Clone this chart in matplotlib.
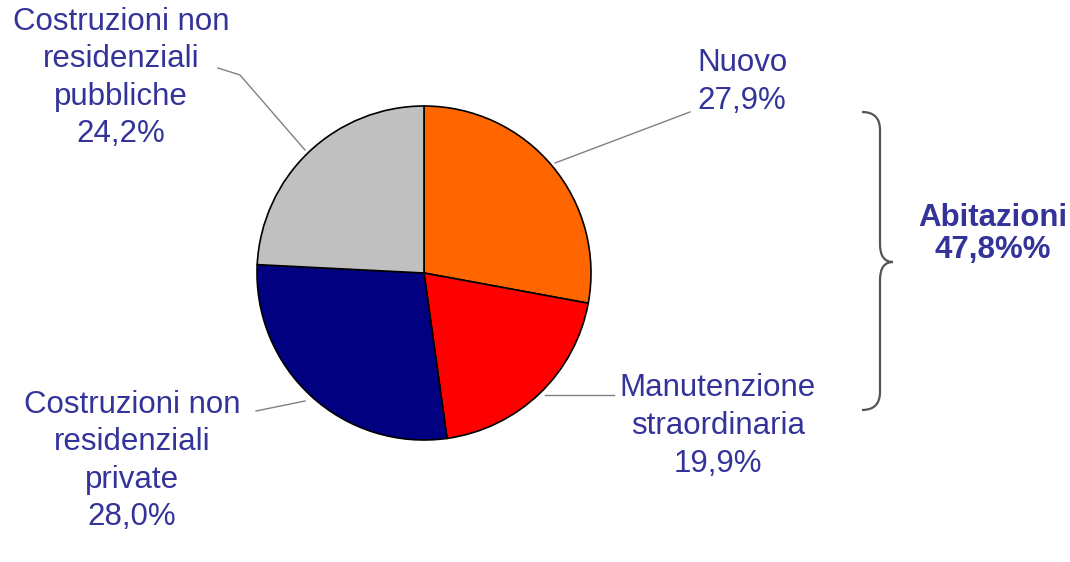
import numpy as np
import matplotlib
matplotlib.use("Agg")
import matplotlib.pyplot as plt
from matplotlib.path import Path
from matplotlib.patches import PathPatch

# Data
labels = ["Nuovo", "Manutenzione\nstraordinaria",
          "Costruzioni non\nresidenziali\nprivate",
          "Costruzioni non\nresidenziali\npubbliche"]
values = [27.9, 19.9, 28.0, 24.2]
colors = ["#FF6600", "#FF0000", "#000080", "#C0C0C0"]
group_label = "Abitazioni"
group_value = "47,8%%"

plt.rcParams['font.family'] = ['Liberation Sans', 'DejaVu Sans']
text_color = "#333399"

W, H = 1070, 562
fig = plt.figure(figsize=(W / 100, H / 100), dpi=100)
ax = fig.add_axes([0, 0, 1, 1])

cx, cy, r = 424, H - 273, 167
ax.pie(values, colors=colors, startangle=90, counterclock=False,
       center=(cx, cy), radius=r, frame=True,
       wedgeprops=dict(edgecolor="black", linewidth=1.2))
ax.set_xlim(0, W)
ax.set_ylim(0, H)
ax.set_aspect("equal")
ax.axis("off")

def fmt(v):
    return f"{v:.1f}".replace(".", ",") + "%"

# label centres (pixel coords, y from top) and leader lines
label_pos = [(742, 82), (718, 426), (132, 461), (121, 78)]
leaders = [[(555, 163), (690, 112)],
           [(545, 395), (614, 395)],
           [(305, 401), (256, 411)],
           [(305, 150), (240, 75), (218, 68)]]

for lab, v, (lx, ly), pts in zip(labels, values, label_pos, leaders):
    ax.text(lx, H - ly, lab + "\n" + fmt(v), ha="center", va="center",
            fontsize=22.5, color=text_color, linespacing=1.33)
    xs = [p[0] for p in pts]
    ys = [H - p[1] for p in pts]
    ax.plot(xs, ys, color="#808080", lw=1)

# brace
bx, top, bot, tip = 880, H - 112, H - 410, H - 262
verts = [(862, top), (880, top), (bx, top - 18),
         (bx, tip + 18), (bx, tip), (893, tip),
         (bx, tip), (bx, tip - 18),
         (bx, bot + 18), (bx, bot), (862, bot)]
codes = [Path.MOVETO, Path.CURVE3, Path.CURVE3,
         Path.LINETO, Path.CURVE3, Path.CURVE3,
         Path.CURVE3, Path.CURVE3,
         Path.LINETO, Path.CURVE3, Path.CURVE3]
ax.add_patch(PathPatch(Path(verts, codes), fill=False, edgecolor="#555555", lw=1.6))

ax.text(993, H - 234, group_label + "\n" + group_value, ha="center", va="center",
        fontsize=22.5, color=text_color, fontweight="bold", linespacing=1.13)

fig.savefig("out.png", dpi=100)
